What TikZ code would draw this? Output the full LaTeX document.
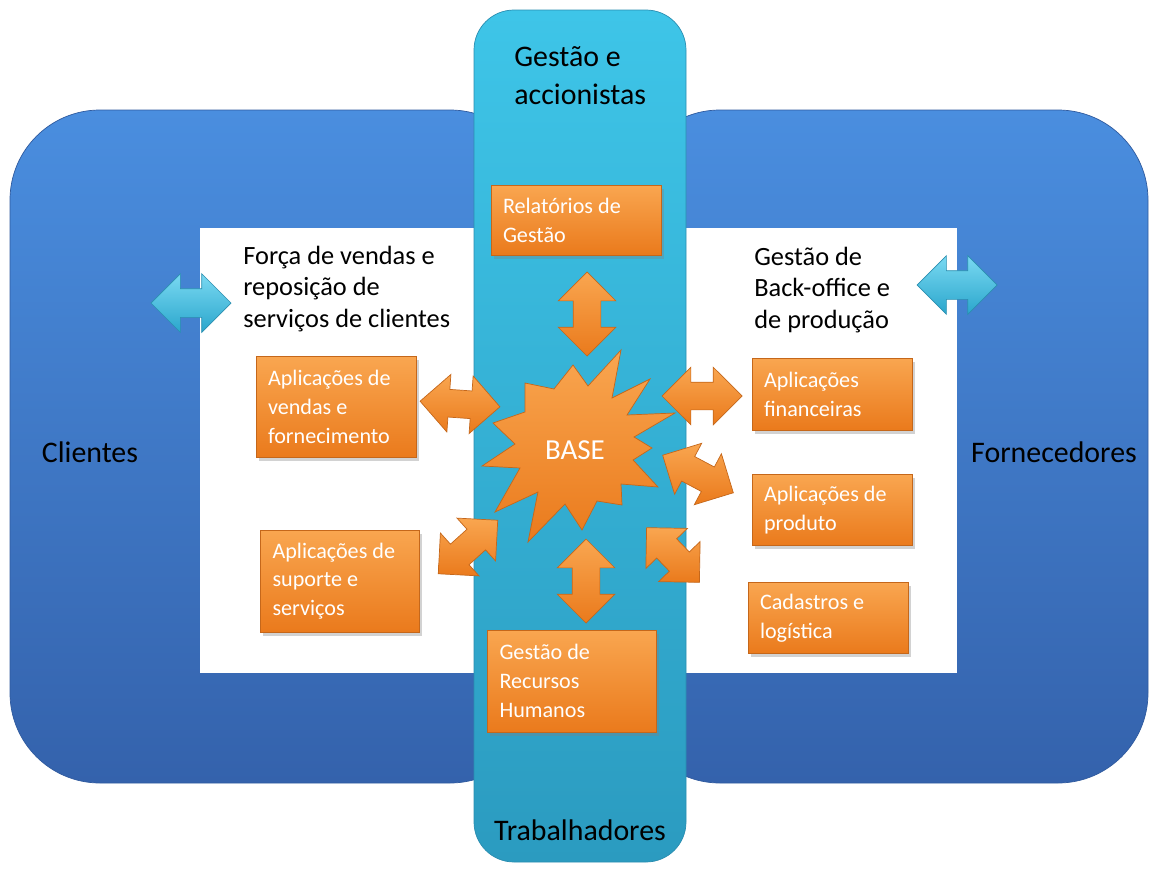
\documentclass[tikz,border=0pt]{standalone}
\usepackage{fontspec}
\setmainfont{Carlito}
\usepackage{tikz}
\usetikzlibrary{shapes.arrows,shadows}
\definecolor{paneltop}{HTML}{4A8EDF}
\definecolor{panelbot}{HTML}{3462AC}
\definecolor{paneledge}{HTML}{2F5A9E}
\definecolor{coltop}{HTML}{3EC5E8}
\definecolor{colbot}{HTML}{2B9BC0}
\definecolor{coledge}{HTML}{2A8DB0}
\definecolor{boxtop}{HTML}{F9A650}
\definecolor{boxbot}{HTML}{EA7A1C}
\definecolor{boxedge}{HTML}{C5671A}
\definecolor{cyantop}{HTML}{7AD9F2}
\definecolor{cyanbot}{HTML}{2AA6CC}
\definecolor{cyanedge}{HTML}{2A8FB0}
\newcommand{\boxfont}{\fontsize{12.6}{16.4}\selectfont}
\newcommand{\headfont}{\fontsize{15}{18.1}\selectfont}
\newcommand{\sidefont}{\fontsize{17}{21.5}\selectfont}

\begin{document}
\begin{tikzpicture}[x=0.2mm, y=-0.2mm,
  every node/.style={inner sep=0pt},
  obox/.style={draw=boxedge, line width=0.4pt, top color=boxtop, bottom color=boxbot,
    drop shadow={opacity=0.35, shadow xshift=0.5mm, shadow yshift=-0.7mm},
    text=white, align=flush left, font=\boxfont},
  barrow/.style={double arrow, draw=boxedge, line width=0.4pt, top color=boxtop, bottom color=boxbot,
    inner xsep=0pt, inner ysep=2.7mm, minimum width=11.4mm, double arrow head extend=3mm},
  carrow/.style={double arrow, draw=cyanedge, line width=0.4pt, top color=cyantop, bottom color=cyanbot,
    inner xsep=0pt, inner ysep=2.8mm, minimum width=11.6mm, minimum height=16mm, double arrow head extend=3mm},
  headtext/.style={font=\headfont, align=left, anchor=west},
  sidetext/.style={font=\sidefont, align=left}]
  \useasboundingbox (0,0) rectangle (1150,870);

  % blue panels
  \path[draw=paneledge, top color=paneltop, bottom color=panelbot, rounded corners=18mm]
    (10,110) rectangle (540,783);
  \path[draw=paneledge, top color=paneltop, bottom color=panelbot, rounded corners=18mm]
    (630,110) rectangle (1148,783);
  \fill[white] (200,228) rectangle (500,673);
  \fill[white] (660,228) rectangle (957,673);

  % middle column
  \path[draw=coledge, top color=coltop, bottom color=colbot, rounded corners=8mm]
    (474,10) rectangle (686,862);

  % texts
  \node[sidetext, anchor=west] (gestao) at (514,76) {Gestão e\\accionistas};
  \node[sidetext] (trab) at (580,830) {Trabalhadores};
  \node[sidetext] (clientes) at (90,452) {Clientes};
  \node[sidetext] (fornec) at (1054,452) {Fornecedores};
  \node[headtext] (forca) at (243,289) {Força de vendas e\\reposição de\\serviços de clientes};
  \node[headtext] (backoff) at (754,290) {Gestão de\\Back-office e\\de produção};

  % orange boxes
  \node[obox, minimum width=34mm, minimum height=14mm, text width=29.2mm] (rel) at (576,220) {Relatórios de\\Gestão};
  \node[obox, minimum width=32mm, minimum height=20.2mm, text width=27.2mm] (vendas) at (336,407) {Aplicações de\\vendas e\\fornecimento};
  \node[obox, minimum width=31.8mm, minimum height=20.4mm, text width=27mm] (suporte) at (340,581) {Aplicações de\\suporte e\\serviços};
  \node[obox, minimum width=33.8mm, minimum height=20.4mm, text width=29mm] (rh) at (572,681) {Gestão de\\Recursos\\Humanos};
  \node[obox, minimum width=32mm, minimum height=14.4mm, text width=27.2mm] (fin) at (832,394) {Aplicações\\financeiras};
  \node[obox, minimum width=32mm, minimum height=14.2mm, text width=27.2mm] (prod) at (832,510) {Aplicações de\\produto};
  \node[obox, minimum width=32mm, minimum height=14.2mm, text width=27.2mm] (cad) at (828,618) {Cadastros e\\logística};

  % double arrows
  \node[barrow, minimum height=16.8mm, rotate=90] (atop) at (587,314) {};
  \node[barrow, minimum height=16.8mm, rotate=90] (abot) at (586,581) {};
  \node[barrow, minimum height=16mm, rotate=-4] (aleftup) at (460,404) {};
  \node[barrow, minimum height=16mm, rotate=42] (aleftlo) at (468,547) {};
  \node[barrow, minimum height=16mm] (arightup) at (702,396) {};
  \node[barrow, minimum height=16mm, rotate=-28] (arightmid) at (698,474) {};
  \node[barrow, minimum height=15.2mm, rotate=-46] (arightlo) at (673,555) {};
  \node[carrow] (cleft) at (191,303) {};
  \node[carrow] (cright) at (957,285) {};

  % BASE
  \path[draw=boxedge, top color=boxtop, bottom color=boxbot]
    (573,365) -- (588,386) -- (621,350) -- (612,398) -- (650,379) -- (627,415)
    -- (675,413) -- (634,437) -- (652,448) -- (633,460) -- (658,487) -- (621,484)
    -- (622,505) -- (597,501) -- (582,530) -- (565,504) -- (528,542) -- (538,492)
    -- (495,512) -- (520,468) -- (482,466) -- (515,444) -- (493,423) -- (525,412)
    -- (525,383) -- (554,389) -- cycle;
  \node[font=\fontsize{16.5}{20}\selectfont, text=white] (base) at (575,450) {BASE};
\end{tikzpicture}
\end{document}
